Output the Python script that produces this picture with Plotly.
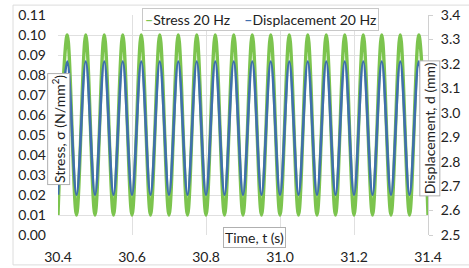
import plotly.graph_objects as go

# Extrema (20 Hz, 0.025 s between peak and trough)
time_s = [30.400, 30.425, 30.450, 30.475, 30.500, 30.525, 30.550, 30.575, 30.600, 30.625,
          30.650, 30.675, 30.700, 30.725, 30.750, 30.775, 30.800, 30.825, 30.850, 30.875,
          30.900, 30.925, 30.950, 30.975, 31.000, 31.025, 31.050, 31.075, 31.100, 31.125,
          31.150, 31.175, 31.200, 31.225, 31.250, 31.275, 31.300, 31.325, 31.350, 31.375,
          31.400]
stress = [0.010, 0.100, 0.010, 0.100, 0.010, 0.100, 0.010, 0.100, 0.010, 0.100,
          0.010, 0.100, 0.010, 0.100, 0.010, 0.100, 0.010, 0.100, 0.010, 0.100,
          0.010, 0.100, 0.010, 0.100, 0.010, 0.100, 0.010, 0.100, 0.010, 0.100,
          0.010, 0.100, 0.010, 0.100, 0.010, 0.100, 0.010, 0.100, 0.010, 0.100,
          0.010]
displacement = [2.665, 3.210, 2.665, 3.210, 2.665, 3.210, 2.665, 3.210, 2.665, 3.210,
                2.665, 3.210, 2.665, 3.210, 2.665, 3.210, 2.665, 3.210, 2.665, 3.210,
                2.665, 3.210, 2.665, 3.210, 2.665, 3.210, 2.665, 3.210, 2.665, 3.210,
                2.665, 3.210, 2.665, 3.210, 2.665, 3.210, 2.665, 3.210, 2.665, 3.210,
                2.665]
series_names = ["Stress 20 Hz", "Displacement 20 Hz"]
x_ticks = [30.4, 30.6, 30.8, 31.0, 31.2, 31.4]
y_left_ticks = [0.00, 0.01, 0.02, 0.03, 0.04, 0.05, 0.06, 0.07, 0.08, 0.09, 0.10, 0.11]
y_right_ticks = [2.5, 2.6, 2.7, 2.8, 2.9, 3.0, 3.1, 3.2, 3.3, 3.4]

GREEN = "#7cc44e"
BLUE = "#3f6fae"
FONT = "Lato"
TXT = "#222222"
GRID = "#e0e0e0"

fig = go.Figure()
fig.add_trace(go.Scatter(x=time_s, y=stress, name=series_names[0], mode="lines",
                         line=dict(color=GREEN, width=3.4, shape="spline", smoothing=1.0),
                         yaxis="y"))
fig.add_trace(go.Scatter(x=time_s, y=displacement, name=series_names[1], mode="lines",
                         line=dict(color=BLUE, width=2.6, shape="spline", smoothing=1.0),
                         yaxis="y2"))

fig.update_layout(
    width=469, height=268,
    margin=dict(l=58, r=41, t=15, b=33, autoexpand=False),
    paper_bgcolor="white", plot_bgcolor="white",
    showlegend=False,
    font=dict(family=FONT, size=14, color=TXT),
    xaxis=dict(range=[30.4, 31.4], tickvals=x_ticks, ticktext=[f"{v:.1f}" for v in x_ticks],
               showgrid=True, gridcolor=GRID, gridwidth=1, zeroline=False,
               showline=False, ticks="", ticklabelstandoff=12,
               tickfont=dict(size=14, color=TXT)),
    yaxis=dict(range=[0, 0.11], tickvals=y_left_ticks, ticktext=[f"{v:.2f}" for v in y_left_ticks],
               showgrid=True, gridcolor=GRID, gridwidth=1, zeroline=False,
               showline=False, ticks="", ticklabelstandoff=11,
               tickfont=dict(size=14, color=TXT)),
    yaxis2=dict(range=[2.5, 3.4], tickvals=y_right_ticks, ticktext=[f"{v:.1f}" for v in y_right_ticks],
                overlaying="y", side="right", showgrid=False, zeroline=False,
                showline=True, linecolor="#d0d0d0", linewidth=1,
                ticks="outside", ticklen=4, tickcolor="#d0d0d0", ticklabelstandoff=5,
                tickfont=dict(size=14, color=TXT)),
)

# faint chart-area border
fig.add_shape(type="rect", xref="paper", yref="paper", x0=-0.1216, x1=1.12, y0=-0.136, y1=1.045,
              line=dict(color="#dcdcdc", width=1), fillcolor="rgba(0,0,0,0)", layer="below")

box = dict(bordercolor="#b0b0b0", borderwidth=1, bgcolor="white", borderpad=1,
           xanchor="center", yanchor="middle", showarrow=False)
fig.add_annotation(xref="paper", yref="paper", x=0.003, y=0.482, text="Stress, σ (N/mm<sup>2</sup>)",
                   textangle=-90, font=dict(size=14, color=TXT, family=FONT), **box)
fig.add_annotation(xref="paper", yref="paper", x=1.005, y=0.484, text="Displacement, d (mm)",
                   textangle=-90, font=dict(size=14, color=TXT, family=FONT), **box)
fig.add_annotation(xref="paper", yref="paper", x=0.530, y=-0.0136, text="Time, t (s)",
                   font=dict(size=14, color=TXT, family=FONT), **box)

legend_text = (f"<span style='color:{GREEN}'><b>–</b></span>{series_names[0]}    "
               f"<span style='color:{BLUE}'><b>–</b></span>{series_names[1]}")
fig.add_annotation(xref="paper", yref="paper", x=0.546, y=0.98, text=legend_text,
                   font=dict(size=14, color=TXT, family=FONT),
                   bordercolor="#c8c8c8", borderwidth=1, bgcolor="white", borderpad=2,
                   xanchor="center", yanchor="middle", showarrow=False)

fig.write_html("out.html", config={"displayModeBar": False},
               post_script="document.body.style.margin='0';")
